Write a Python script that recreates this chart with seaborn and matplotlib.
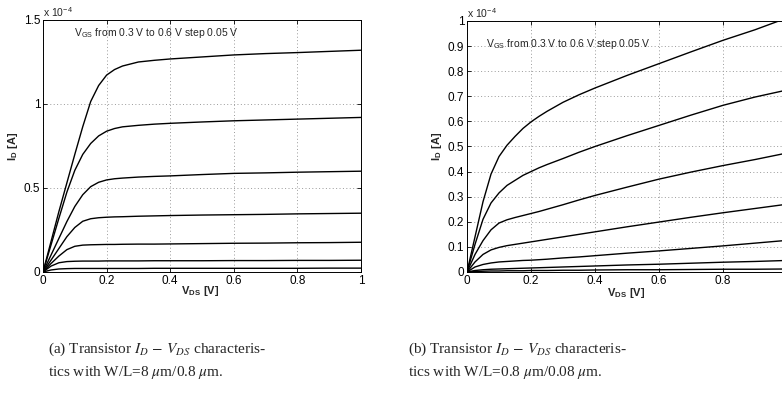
import numpy as np
import pandas as pd
import matplotlib
matplotlib.use("Agg")
import matplotlib.pyplot as plt
import seaborn as sns

# Drain-source voltage samples [V]
vds = [0, 0.025, 0.05, 0.075, 0.1, 0.125, 0.15, 0.175, 0.2, 0.225, 0.25,
       0.3, 0.35, 0.4, 0.5, 0.6, 0.7, 0.8, 0.9, 1.0]
vgs = [0.6, 0.55, 0.5, 0.45, 0.4, 0.35, 0.3]

# Drain current [x1e-4 A], W/L = 8 um / 0.8 um
id_long = {
    0.6:  [0, 0.18, 0.36, 0.53, 0.70, 0.865, 1.015, 1.11, 1.172, 1.205, 1.226, 1.25, 1.26, 1.268, 1.28, 1.292, 1.30, 1.306, 1.313, 1.32],
    0.55: [0, 0.16, 0.32, 0.475, 0.605, 0.70, 0.765, 0.81, 0.838, 0.854, 0.864, 0.873, 0.88, 0.885, 0.893, 0.90, 0.905, 0.91, 0.915, 0.92],
    0.5:  [0, 0.10, 0.20, 0.30, 0.39, 0.46, 0.508, 0.534, 0.548, 0.555, 0.559, 0.565, 0.569, 0.572, 0.58, 0.587, 0.59, 0.594, 0.597, 0.60],
    0.45: [0, 0.07, 0.14, 0.21, 0.265, 0.302, 0.317, 0.323, 0.326, 0.328, 0.329, 0.332, 0.334, 0.336, 0.339, 0.341, 0.343, 0.346, 0.348, 0.35],
    0.4:  [0, 0.05, 0.095, 0.133, 0.153, 0.16, 0.162, 0.163, 0.164, 0.164, 0.165, 0.166, 0.166, 0.167, 0.169, 0.171, 0.172, 0.174, 0.175, 0.177],
    0.35: [0, 0.035, 0.055, 0.062, 0.064, 0.065, 0.065, 0.065, 0.066, 0.066, 0.066, 0.066, 0.067, 0.067, 0.067, 0.068, 0.068, 0.069, 0.069, 0.07],
    0.3:  [0, 0.012, 0.018, 0.02, 0.021, 0.021, 0.021, 0.021, 0.021, 0.021, 0.021, 0.021, 0.022, 0.022, 0.022, 0.022, 0.022, 0.022, 0.023, 0.023],
}

# Drain current [x1e-4 A], W/L = 0.8 um / 0.08 um
id_short = {
    0.6:  [0, 0.14, 0.28, 0.39, 0.46, 0.505, 0.54, 0.572, 0.598, 0.62, 0.64, 0.676, 0.706, 0.733, 0.783, 0.83, 0.877, 0.923, 0.965, 1.012],
    0.55: [0, 0.11, 0.21, 0.275, 0.315, 0.345, 0.365, 0.385, 0.40, 0.415, 0.428, 0.452, 0.477, 0.50, 0.543, 0.584, 0.625, 0.664, 0.697, 0.725],
    0.5:  [0, 0.07, 0.125, 0.168, 0.195, 0.208, 0.217, 0.225, 0.233, 0.241, 0.25, 0.268, 0.287, 0.305, 0.338, 0.37, 0.398, 0.424, 0.448, 0.474],
    0.45: [0, 0.04, 0.07, 0.088, 0.098, 0.105, 0.11, 0.115, 0.12, 0.125, 0.13, 0.14, 0.15, 0.16, 0.18, 0.199, 0.218, 0.236, 0.253, 0.27],
    0.4:  [0, 0.02, 0.03, 0.036, 0.04, 0.042, 0.044, 0.046, 0.047, 0.049, 0.051, 0.056, 0.06, 0.065, 0.075, 0.084, 0.094, 0.104, 0.115, 0.126],
    0.35: [0, 0.006, 0.009, 0.011, 0.012, 0.013, 0.014, 0.015, 0.016, 0.017, 0.018, 0.02, 0.022, 0.024, 0.028, 0.031, 0.035, 0.039, 0.042, 0.046],
    0.3:  [0, 0.002, 0.003, 0.004, 0.004, 0.005, 0.005, 0.005, 0.006, 0.006, 0.006, 0.007, 0.007, 0.008, 0.009, 0.009, 0.01, 0.011, 0.011, 0.012],
}

xticks = [0, 0.2, 0.4, 0.6, 0.8, 1]
xticklabels_a = ["0", "0.2", "0.4", "0.6", "0.8", "1"]
xticklabels_b = ["0", "0.2", "0.4", "0.6", "0.8", ""]
yticks_a = [0, 0.5, 1, 1.5]
yticklabels_a = ["0", "0.5", "1", "1.5"]
yticks_b = [0, 0.1, 0.2, 0.3, 0.4, 0.5, 0.6, 0.7, 0.8, 0.9, 1]
yticklabels_b = ["0", "0.1", "0.2", "0.3", "0.4", "0.5", "0.6", "0.7", "0.8", "0.9", "1"]


def to_frame(curves):
    rows = []
    for g in vgs:
        for x, y in zip(vds, curves[g]):
            rows.append({"vds": x, "id": y, "vgs": g})
    return pd.DataFrame(rows)


sns.set_theme(style="ticks")
plt.rcParams["font.family"] = ["Liberation Sans", "DejaVu Sans"]
plt.rcParams["mathtext.fontset"] = "stix"

fig = plt.figure(figsize=(7.82, 3.95), dpi=100)
ax_a = fig.add_axes([0.055, 0.3114, 0.4066, 0.638])
ax_b = fig.add_axes([0.5972, 0.3114, 0.4092, 0.6355])

panels = [
    (ax_a, id_long, 1.5, xticklabels_a, yticks_a, yticklabels_a, (0.097, 1.42)),
    (ax_b, id_short, 1.0, xticklabels_b, yticks_b, yticklabels_b, (0.06, 0.91)),
]

for ax, curves, ymax, xtl, yt, ytl, txt in panels:
    df = to_frame(curves)
    sns.lineplot(data=df, x="vds", y="id", hue="vgs", palette=["black"] * len(vgs),
                 estimator=None, sort=False, legend=False, linewidth=1.0, ax=ax)
    ax.set_xlim(0, 1)
    ax.set_ylim(0, ymax)
    ax.set_xticks(xticks)
    ax.set_xticklabels(xtl)
    ax.set_yticks(yt)
    ax.set_yticklabels(ytl)
    ax.tick_params(direction="in", length=3, width=0.6, labelsize=8.5, pad=2,
                   top=True, right=True, colors="black")
    ax.grid(True, linestyle=(0, (1, 2.5)), color="#9a9a9a", linewidth=0.7)
    for s in ax.spines.values():
        s.set_linewidth(0.7)
        s.set_color("black")
    ax.set_xlabel("")
    ax.set_ylabel(r"I$_\mathregular{D}$ [A]", fontsize=8, fontweight="bold", labelpad=3)
    ax.text(txt[0], txt[1], r"V$_\mathregular{GS}$ from 0.3 V to 0.6 V step 0.05 V",
            fontsize=7.5, va="center", ha="left", transform=ax.transData)
    ax.text(0.0, 1.005, r"x 10$^\mathregular{-4}$", fontsize=7.5, va="bottom", ha="left",
            transform=ax.transAxes)

fig.text(200 / 782, 1 - 291 / 395, r"V$_\mathregular{DS}$ [V]", fontsize=8,
         fontweight="bold", ha="center", va="center")
fig.text(626 / 782, 1 - 293 / 395, r"V$_\mathregular{DS}$ [V]", fontsize=8,
         fontweight="bold", ha="center", va="center")

cap_kw = dict(fontsize=11, family=["Liberation Serif", "DejaVu Serif"], ha="left",
              va="top", linespacing=1.45)
fig.text(48 / 782, 1 - 341 / 395,
         "(a) Transistor $I_D\\,-\\,V_{DS}$ characteris-\ntics with W/L=8 $\\mu$m/0.8 $\\mu$m.",
         **cap_kw)
fig.text(408 / 782, 1 - 341 / 395,
         "(b) Transistor $I_D\\,-\\,V_{DS}$ characteris-\ntics with W/L=0.8 $\\mu$m/0.08 $\\mu$m.",
         **cap_kw)

fig.savefig("out.png", dpi=100)
